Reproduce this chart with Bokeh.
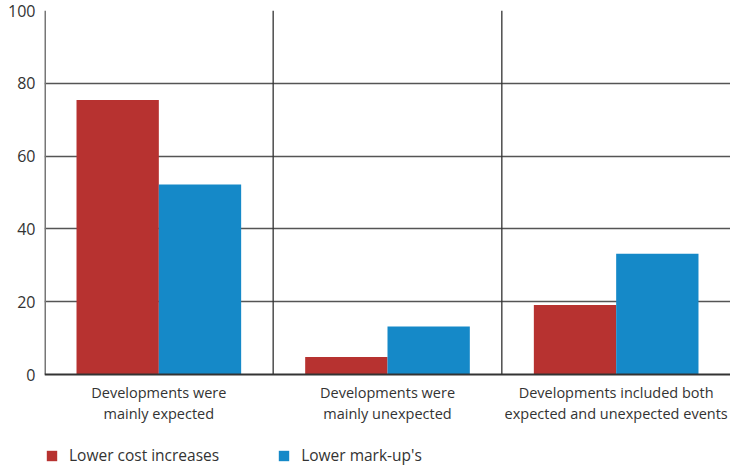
from bokeh.plotting import figure
from bokeh.models import FactorRange, Legend, LegendItem, FixedTicker
from bokeh.transform import dodge
from bokeh.embed import file_html
from bokeh.resources import INLINE

categories = ["Developments were\nmainly expected",
              "Developments were\nmainly unexpected",
              "Developments included both\nexpected and unexpected events"]
lower_cost_increases = [75.4, 4.8, 19.1]
lower_markups = [52.2, 13.2, 33.2]
series_names = ["Lower cost increases", "Lower mark-up's"]
y_ticks = [0, 20, 40, 60, 80, 100]

RED = "#B73230"
BLUE = "#1589C8"
FONT = "Open Sans"
TXT = "#333333"

# frame: top at 10px, zero line at 374px, frame bottom at 470px (legend lives inside it)
Y_MIN = -(470 - 374) / 3.64

p = figure(x_range=FactorRange(*categories, range_padding=0), y_range=(Y_MIN, 100),
           width=730, height=470, output_backend="svg",
           toolbar_location=None, min_border_left=44, min_border_right=0,
           min_border_top=10, min_border_bottom=0)
p.outline_line_color = None
p.background_fill_color = "white"
p.xaxis.visible = False

src = dict(cat=categories, a=lower_cost_increases, b=lower_markups)
r1 = p.vbar(x=dodge("cat", -0.18, range=p.x_range), top="a", bottom=0, width=0.36,
            source=src, fill_color=RED, line_color=None)
r2 = p.vbar(x=dodge("cat", 0.18, range=p.x_range), top="b", bottom=0, width=0.36,
            source=src, fill_color=BLUE, line_color=None)

p.xgrid.grid_line_color = None
p.ygrid.ticker = FixedTicker(ticks=y_ticks[1:])
p.ygrid.grid_line_color = "#555555"
p.ygrid.grid_line_width = 1.3

n = len(categories)
# category separators
p.segment(x0=list(range(1, n)), y0=[0] * (n - 1), x1=list(range(1, n)),
          y1=[y_ticks[-1]] * (n - 1), line_color="#333333", line_width=1.3)
# y axis line
p.segment(x0=[0], y0=[0], x1=[0], y1=[y_ticks[-1]], line_color="#777777", line_width=3)
# x axis line
p.segment(x0=[0], y0=[0], x1=[n], y1=[0], line_color="#333333", line_width=2)

# category labels under the zero line
p.text(x=categories, y=[0] * n, text=categories, y_offset=8,
       text_align="center", text_baseline="top", text_font={"value": FONT},
       text_font_size="14.5px", text_color=TXT, text_line_height=1.12)

p.yaxis.ticker = FixedTicker(ticks=y_ticks)
p.yaxis.major_tick_line_color = None
p.yaxis.minor_tick_line_color = None
p.yaxis.major_tick_out = 0
p.yaxis.major_tick_in = 0
p.yaxis.axis_line_color = None
p.yaxis.major_label_text_font = FONT
p.yaxis.major_label_text_font_size = "16px"
p.yaxis.major_label_text_color = TXT
p.yaxis.major_label_standoff = 9

legend = Legend(items=[LegendItem(label=series_names[0], renderers=[r1]),
                       LegendItem(label=series_names[1], renderers=[r2])],
                orientation="horizontal", location=(1, 4),
                glyph_width=13, glyph_height=13, label_standoff=11, spacing=58,
                label_text_font=FONT, label_text_font_size="15.5px",
                label_text_color=TXT, border_line_color=None,
                background_fill_alpha=0, padding=0, margin=0)
p.add_layout(legend, "center")

open("out.html", "w").write(file_html(p, INLINE))
